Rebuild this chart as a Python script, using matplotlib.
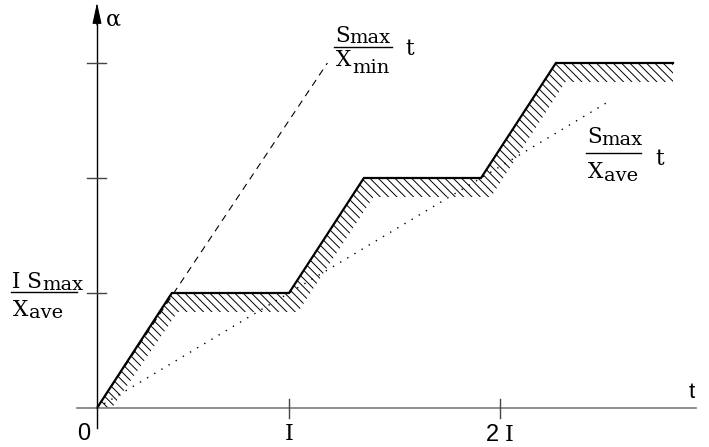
import matplotlib
matplotlib.use("Agg")
import matplotlib.pyplot as plt
from matplotlib.lines import Line2D

plt.rcParams['lines.scale_dashes'] = False

# Data (t in units of I, alpha in units of I*Smax/Xave)
t_upper = [0.0, 0.39, 1.0, 1.39, 2.0, 2.39, 3.0]
a_upper = [0.0, 1.0, 1.0, 2.0, 2.0, 3.0, 3.0]
t_lower = [0.078, 0.42, 1.047, 1.44, 2.052, 2.44, 3.0]
a_lower = [0.0, 0.835, 0.835, 1.835, 1.835, 2.835, 2.835]
t_fast = [0.0, 1.2]          # Smax/Xmin * t
a_fast = [0.0, 3.0]
t_ave = [0.0, 2.65]          # Smax/Xave * t
a_ave = [0.0, 2.65]
xtick_pos = [1.0, 2.1]
ytick_pos = [1.0, 2.0, 3.0]

W, H = 709, 447
SERIF = 'DejaVu Serif'
SANS = 'Liberation Sans'
BIG, SUB = 15.5, 14


def fx(px):
    return px / W


def fy(py):
    return 1 - py / H


fig = plt.figure(figsize=(W / 100, H / 100), dpi=100)
ax = fig.add_axes([0, 0, 1, 1])
ax.set_xlim(-97 / 192, (W - 97) / 192)
ax.set_ylim((408 - H) / 115, 408 / 115)
ax.axis('off')

# hatched band under the curve
poly_t = t_upper + t_lower[::-1]
poly_a = a_upper + a_lower[::-1]
plt.rcParams['hatch.linewidth'] = 0.7
ax.fill(poly_t, poly_a, facecolor='none', edgecolor='black', lw=0,
        hatch='\\\\\\\\')

# reference lines
ax.plot(t_fast, a_fast, color='black', lw=0.8, linestyle=(0, (5, 4)))
ax.plot(t_ave, a_ave, color='black', lw=1.0, linestyle=(0, (1, 5)))
ax.plot(t_upper, a_upper, color='black', lw=1.6, solid_joinstyle='miter')

# axes
ax.plot([-0.104, 3.12], [0, 0], color='#7a7a7a', lw=1.2)
ax.plot([0, 0], [-0.174, 3.35], color='black', lw=1.0)
ax.annotate('', xy=(3.195, 0), xytext=(3.11, 0),
            arrowprops=dict(arrowstyle='-|>,head_length=1.1,head_width=0.38',
                            mutation_scale=10, color='black', lw=0.8,
                            shrinkA=0, shrinkB=0))
ax.annotate('', xy=(0, 3.525), xytext=(0, 3.33),
            arrowprops=dict(arrowstyle='-|>,head_length=1.3,head_width=0.28',
                            mutation_scale=10, color='black', lw=0.8,
                            shrinkA=0, shrinkB=0))
for y in ytick_pos:
    ax.plot([-0.052, 0.047], [y, y], color='#444444', lw=1.0)
for x in xtick_pos:
    ax.plot([x, x], [-0.087, 0.078], color='#444444', lw=1.0)

# tick labels
fig.text(fx(84), fy(440), '0', family=SANS, fontsize=17, ha='center', va='baseline')
fig.text(fx(289), fy(440), 'I', family=SERIF, fontsize=16, ha='center', va='baseline')
fig.text(fx(492), fy(441), '2', family=SANS, fontsize=17, ha='center', va='baseline')
fig.text(fx(509), fy(441), 'I', family=SERIF, fontsize=16, ha='center', va='baseline')
fig.text(fx(689), fy(398), 't', family=SANS, fontsize=16, ha='left', va='baseline')
fig.text(fx(106), fy(26), 'α', family=SERIF, fontsize=16, ha='left', va='baseline')


def fraction(x0, bar_y, bar_x1, num, num_sub, den, den_sub, num_base, den_base,
             num_dy=0, den_dy=0, tail=None):
    # numerator
    tn = fig.text(fx(x0), fy(num_base), num, family=SERIF, fontsize=BIG,
                  ha='left', va='baseline')
    fig.canvas.draw()
    bb = tn.get_window_extent()
    fig.text(fx(bb.x1), fy(num_base + num_dy), num_sub, family=SERIF,
             fontsize=SUB, ha='left', va='baseline')
    fig.add_artist(Line2D([fx(x0 - 1), fx(bar_x1)], [fy(bar_y), fy(bar_y)],
                          transform=fig.transFigure, color='black', lw=1.0))
    td = fig.text(fx(x0 + 1), fy(den_base), den, family=SERIF, fontsize=BIG,
                  ha='left', va='baseline')
    fig.canvas.draw()
    bb = td.get_window_extent()
    fig.text(fx(bb.x1 + 1), fy(den_base + den_dy), den_sub, family=SERIF,
             fontsize=SUB, ha='left', va='baseline')
    if tail is not None:
        fig.text(fx(tail[0]), fy(tail[1]), 't', family=SERIF, fontsize=BIG,
                 ha='left', va='baseline')


fraction(335, 47, 392, 'S', 'max', 'X', 'min', 42, 66, num_dy=1, den_dy=7,
         tail=(405, 55))
fraction(587, 153, 641, 'S', 'max', 'X', 'ave', 143, 178, num_dy=2, den_dy=3,
         tail=(655, 165))
fraction(12, 292, 77, 'I S', 'max', 'X', 'ave', 288, 316, num_dy=2, den_dy=2)

fig.savefig('out.png', dpi=100)
